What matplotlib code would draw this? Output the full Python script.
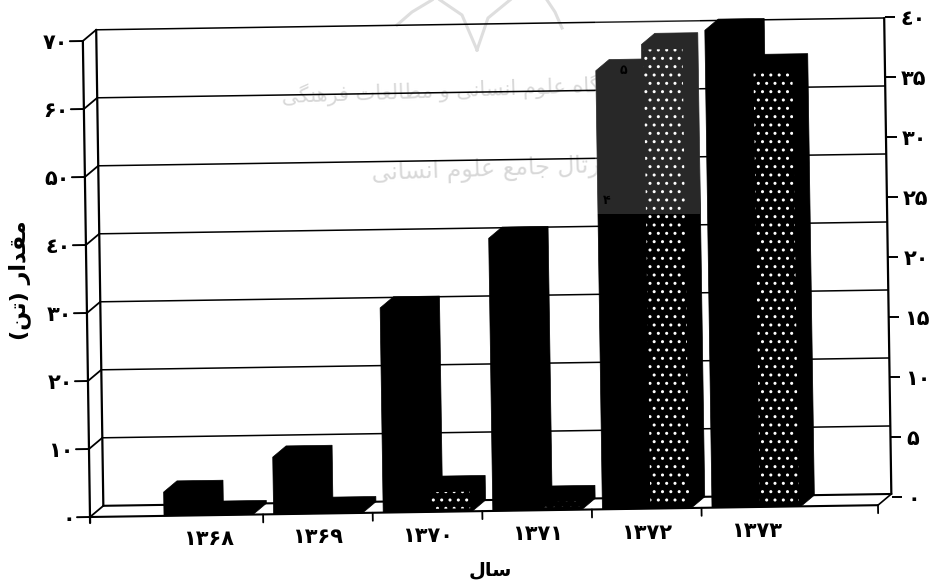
import numpy as np
import matplotlib
matplotlib.use("Agg")
import matplotlib.pyplot as plt
from matplotlib.patches import Polygon, Rectangle

# values
years = ['۱۳۶۸', '۱۳۶۹', '۱۳۷۰', '۱۳۷۱', '۱۳۷۲', '۱۳۷۳']
black_series = [3.5, 8.4, 30.1, 40.1, 64.5, 70.2]      # left axis
dotted_series = [0.25, 0.44, 2.07, 1.1, 39.0, 37.1]    # right axis
left_ticks = [0, 10, 20, 30, 40, 50, 60, 70]
left_labels = ['۰', '۱۰', '۲۰', '۳۰', '٤۰', '۵۰', '۶۰', '۷۰']
right_ticks = [0, 5, 10, 15, 20, 25, 30, 35, 40]
right_labels = ['۰', '۵', '۱۰', '۱۵', '۲۰', '۲۵', '۳۰', '۳۵', '٤۰']

# Persian text in presentation forms, left to right, since matplotlib does no shaping
xlabel_text = '\ufedd\ufe8e\ufeb3'
ylabel_text = '(\ufee6\ufe97) \ufead\ufe8d\ufeaa\ufed8\ufee3'
mark_line1 = ('\ufbfd\ufb95\ufee8\ufeeb\ufeae\ufed3 \ufe95\ufe8e\ufecc\ufedf\ufe8e\ufec4\ufee3 \ufeed '
              '\ufbfd\ufee7\ufe8e\ufeb4\ufee7\ufe8d \ufee1\ufeee\ufee0\ufecb '
              '\ufee9\ufe8e\ufb95\ufeb8\ufeeb\ufeed\ufb8b\ufb58')
mark_line2 = ('\ufbfd\ufee7\ufe8e\ufeb4\ufee7\ufe8d \ufee1\ufeee\ufee0\ufecb '
              '\ufeca\ufee3\ufe8e\ufe9f \ufedd\ufe8e\ufe97\ufeae\ufb58')

W, H = 934, 584
plt.rcParams['font.family'] = ['DejaVu Sans']
plt.rcParams['hatch.linewidth'] = 1.0

fig = plt.figure(figsize=(W / 100, H / 100), dpi=100)

def px_axes(x0, x1, y_top, y_bottom):
    return fig.add_axes([x0 / W, 1 - y_bottom / H, (x1 - x0) / W, (y_bottom - y_top) / H])

# front plane carries the bars and the left scale
PX_CAT = 109.6
PX_LEFT = 153.5        # pixel where category 0 starts
XMIN = (90 - PX_LEFT) / PX_CAT
XMAX = (878 - PX_LEFT) / PX_CAT
ax = px_axes(90, 878, 41, 517)
ax.set_xlim(XMIN, XMAX)
ax.set_ylim(0, 70)
ax.patch.set_alpha(0)
PX_UNIT = 476 / 70.0

DX = 13.5 / PX_CAT     # depth of the fake 3d
DY = 11 / PX_UNIT
RATIO = 70 / 40
BAR_W = 46 / PX_CAT
BAR_W2 = 43 / PX_CAT
BAR_GAP = 10.5 / PX_CAT
# the scanned page is turned by a bit under one degree
TURN = 0.015
SLOPE = TURN * PX_CAT / PX_UNIT
LEAN = TURN * PX_UNIT / PX_CAT

def P(x, v):
    return x - LEAN * v, v + SLOPE * (x - XMIN)

def line(x0, v0, x1, v1, lw=1.2, color='black'):
    a, b = P(x0, v0), P(x1, v1)
    ax.plot([a[0], b[0]], [a[1], b[1]], color=color, lw=lw, clip_on=False, zorder=2,
            solid_capstyle='round')

def bar_3d(x0, width, value, zorder):
    x1 = x0 + width
    pts = [P(x0, 0), P(x0, value), P(x0 + DX, value + DY), P(x1 + DX, value + DY),
           P(x1 + DX, DY), P(x1, 0)]
    ax.add_patch(Polygon(pts, closed=True, fc='black', ec='black', lw=0.5, zorder=zorder, clip_on=False))

# back wall, grid and floor
wall_x = XMIN + DX
grid_end = XMAX + DX
for v in left_ticks[1:]:
    line(XMIN, v, wall_x, v + DY, lw=1.3)
    line(wall_x, v + DY, grid_end, v + DY, lw=1.1)
line(XMIN, 0, wall_x, DY, lw=1.3)
line(wall_x, DY, wall_x, 70 + DY, lw=1.6)
line(wall_x, DY, grid_end, DY, lw=1.5)
line(XMIN, 0, XMAX, 0, lw=1.5)
line(XMAX, 0, grid_end, DY, lw=1.2)
line(grid_end, DY, grid_end, 70 + DY, lw=1.6)

# left axis line and tick marks, they lean with the page
line(XMIN, -6 / PX_UNIT, XMIN, 70, lw=1.6)
for v in left_ticks:
    line(XMIN, v, XMIN - 13 / PX_CAT, v, lw=1.4)
# separators under the floor
seps = [1, 2, 3, 4, 5, XMAX]
for s in seps:
    line(s, 0, s, -8 / PX_UNIT, lw=1.3)

# watermark under the bars
ax.text((470 - PX_LEFT) / PX_CAT, 62.8, mark_line1, fontsize=15, color='#d8d8d8',
        ha='center', va='center', rotation=2, zorder=1)
ax.text((490 - PX_LEFT) / PX_CAT, 51, mark_line2, fontsize=17, color='#d8d8d8',
        ha='center', va='center', rotation=2, zorder=1)

def px_line(xs, ys, **kw):
    fig.add_artist(plt.Line2D(np.array(xs) / W, 1 - np.array(ys) / H, **kw))

# bits of the logo at the top of the page
logo_style = dict(color='#dedede', lw=2.2, zorder=0)
px_line([397, 412, 432], [25, 12, 0], **logo_style)
px_line([440, 462, 477], [0, 15, 50], **logo_style)
px_line([510, 488, 477], [0, 18, 50], **logo_style)
px_line([547, 555, 562], [0, 12, 28], **logo_style)

# bars, the dotted one stands in front of the black one
for i, (a, b) in enumerate(zip(black_series, dotted_series)):
    x0 = i + BAR_GAP
    bar_3d(x0, BAR_W, a, 3)
    x2 = x0 + BAR_W
    h = b * RATIO
    bar_3d(x2, BAR_W2, h, 4)
    # stipple panel inside the front face
    inset = 2 / PX_CAT
    top = h - 5 / PX_UNIT
    low = 3 / PX_UNIT
    if top > low + 0.4:
        panel = [P(x2 + inset, low), P(x2 + inset, top), P(x2 + BAR_W2 - inset, top), P(x2 + BAR_W2 - inset, low)]
        ax.add_patch(Polygon(panel, closed=True, fc='black', ec='white', hatch='..', lw=0,
                             zorder=5, clip_on=False))

# grey band of the scanned page over the 1372 group
band_y0 = (517 - 214) / PX_UNIT
ax.add_patch(Rectangle(((595 - PX_LEFT) / PX_CAT, band_y0), 105 / PX_CAT, 70 - band_y0 + 4,
                       fc='white', ec='none', alpha=0.16, zorder=6, clip_on=False))
# stray marks showing through on that band
ax.text((623 - PX_LEFT) / PX_CAT, (517 - 71) / PX_UNIT, '۵', fontsize=9, fontweight='bold', ha='center',
        va='center', color='black', zorder=7)
ax.text((607 - PX_LEFT) / PX_CAT, (517 - 201) / PX_UNIT, '۴', fontsize=9, fontweight='bold', ha='center',
        va='center', color='black', zorder=7)

# axis dressing
for s in ax.spines.values():
    s.set_visible(False)
ax.set_yticks(left_ticks, labels=left_labels, fontsize=15, fontweight='bold')
ax.tick_params(axis='y', length=0, pad=11)
for t, v in zip(ax.yaxis.get_major_ticks(), left_ticks):
    t.label1.set_x(-LEAN * v * PX_CAT / 788)

label_pos = np.arange(6) + 0.5
ax.set_xticks(label_pos, labels=years, fontsize=15, fontweight='bold')
ax.tick_params(axis='x', length=0, pad=10)
for t, x in zip(ax.xaxis.get_major_ticks(), label_pos):
    t.label1.set_y(SLOPE * (x - XMIN) / 70)

ax.set_ylabel(ylabel_text, fontsize=16, fontweight='bold', va='center')
ax.yaxis.set_label_coords((20 - 90) / 788, (517 - 280) / 476)
ax.set_xlabel(xlabel_text, fontsize=14, fontweight='bold', va='center')
ax.xaxis.set_label_coords((490 - 90) / 788, (517 - 570) / 476)

# back right axis, scale only, its line is drawn above
ax2 = px_axes(103, 892, 17, 497)
ax2.patch.set_alpha(0)
ax2.set_xlim(103, 892)
ax2.set_ylim(0, 40)
ax2.set_xticks([])
for s in ax2.spines.values():
    s.set_visible(False)
ax2.yaxis.tick_right()
ax2.set_yticks(right_ticks, labels=right_labels, fontsize=15, fontweight='bold')
ax2.tick_params(axis='y', length=0, pad=11)
right_x = 892 - TURN * 12 * np.array(right_ticks)
ax2.hlines(right_ticks, right_x, right_x + 10, color='black', lw=1.4, clip_on=False)
for t, x in zip(ax2.yaxis.get_major_ticks(), right_x):
    t.label2.set_x(1 + (x - 892) / 789)

fig.savefig('out.png', dpi=100)
